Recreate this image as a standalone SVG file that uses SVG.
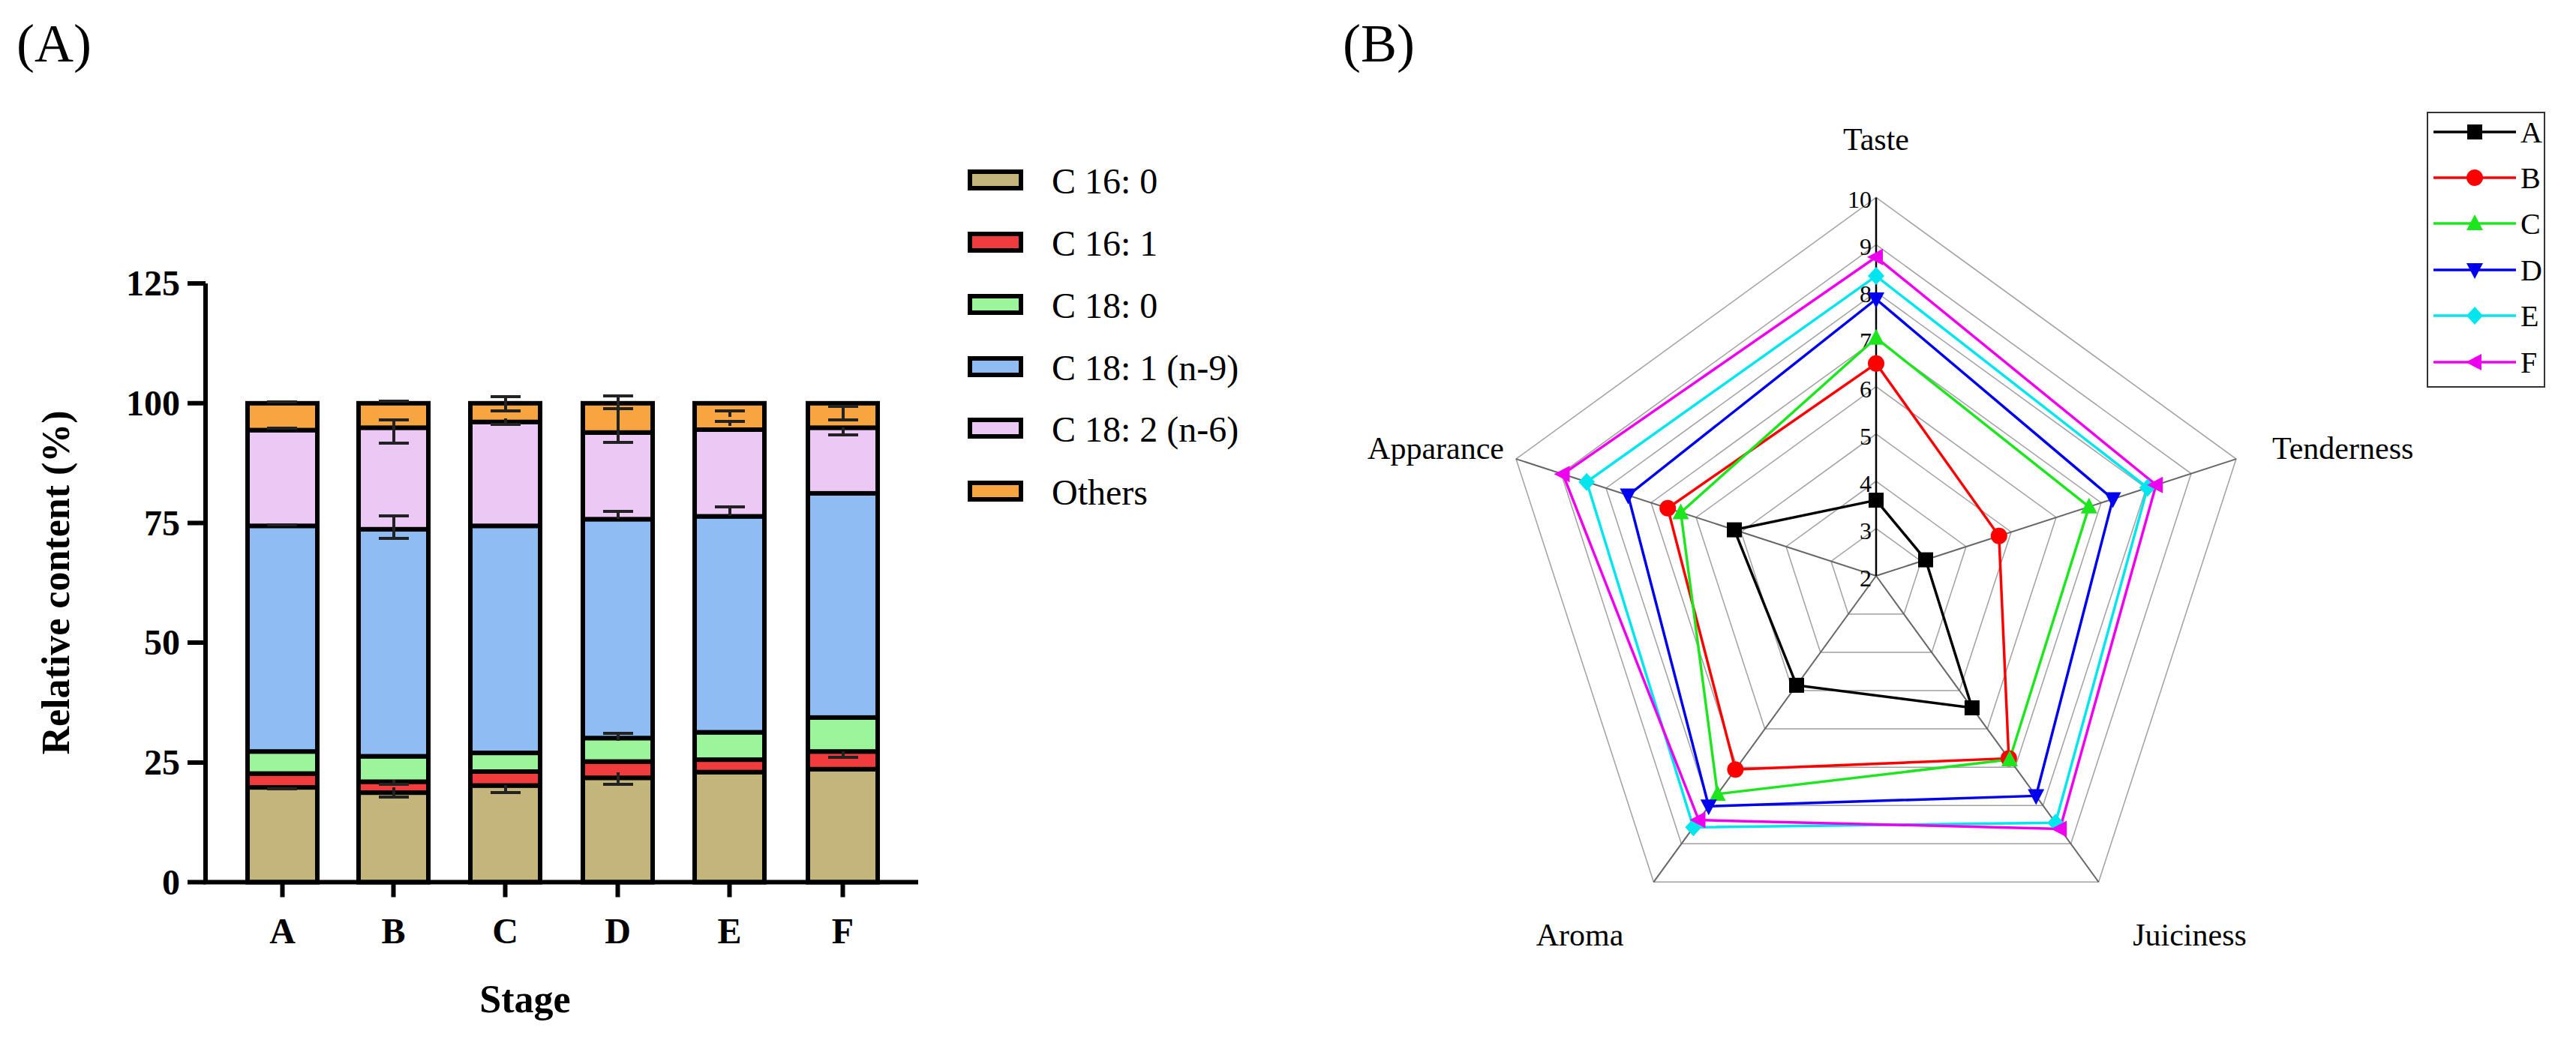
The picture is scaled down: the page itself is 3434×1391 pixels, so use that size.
<svg xmlns="http://www.w3.org/2000/svg" width="3434" height="1391" viewBox="0 0 3434 1391">
<style>
.t{font-family:"Liberation Serif","Times New Roman",serif;fill:#000}
.b{font-weight:bold}
.s{stroke:#000;stroke-width:6}
.c1{fill:#c4b57a}.c2{fill:#f03c3c}.c3{fill:#9cf59a}.c4{fill:#8fbcf2}.c5{fill:#ecc8f5}.c6{fill:#f7a541}
.eb{stroke:#222;stroke-width:4;fill:none}
.grid{fill:none;stroke:#a0a0a0;stroke-width:1.5}
.ser{fill:none;stroke-width:3.5}
</style>
<defs>
<rect id="mA" x="-10" y="-10" width="20" height="20" fill="#000"/>
<circle id="mB" r="11" fill="#f00"/>
<polygon id="mC" points="0,-12 11,9 -11,9" fill="#1ee61e"/>
<polygon id="mD" points="0,12 11,-9 -11,-9" fill="#0000ee"/>
<polygon id="mE" points="0,-12 11,0 0,12 -11,0" fill="#00e5ee"/>
<polygon id="mF" points="-12,0 9,-11 9,11" fill="#ee00ee"/>
</defs>
<rect width="3434" height="1391" fill="#fff"/>
<text class="t" x="22" y="82" font-size="72">(A)</text>
<text class="t" x="1790" y="82" font-size="72">(B)</text>

<g id="barchart">
<g id="bars">
<g id="barA"><rect class="s c1" x="330" y="1050.1" width="93" height="126.5"/><rect class="s c2" x="330" y="1031.6" width="93" height="18.5"/><rect class="s c3" x="330" y="1002.2" width="93" height="29.4"/><rect class="s c4" x="330" y="701.3" width="93" height="300.9"/><rect class="s c5" x="330" y="573.6" width="93" height="127.7"/><rect class="s c6" x="330" y="537.8" width="93" height="35.8"/></g>
<g id="barB"><rect class="s c1" x="478" y="1057.1" width="93" height="119.5"/><rect class="s c2" x="478" y="1042.5" width="93" height="14.6"/><rect class="s c3" x="478" y="1008.6" width="93" height="33.9"/><rect class="s c4" x="478" y="705.8" width="93" height="302.8"/><rect class="s c5" x="478" y="570.4" width="93" height="135.4"/><rect class="s c6" x="478" y="537.8" width="93" height="32.6"/></g>
<g id="barC"><rect class="s c1" x="627" y="1047.6" width="93" height="129"/><rect class="s c2" x="627" y="1029" width="93" height="18.6"/><rect class="s c3" x="627" y="1004.1" width="93" height="24.9"/><rect class="s c4" x="627" y="701.3" width="93" height="302.8"/><rect class="s c5" x="627" y="562.7" width="93" height="138.6"/><rect class="s c6" x="627" y="537.8" width="93" height="24.9"/></g>
<g id="barD"><rect class="s c1" x="777" y="1037.3" width="93" height="139.3"/><rect class="s c2" x="777" y="1015.6" width="93" height="21.7"/><rect class="s c3" x="777" y="984.3" width="93" height="31.3"/><rect class="s c4" x="777" y="692.4" width="93" height="291.9"/><rect class="s c5" x="777" y="576.8" width="93" height="115.6"/><rect class="s c6" x="777" y="537.8" width="93" height="39"/></g>
<g id="barE"><rect class="s c1" x="926" y="1029.7" width="93" height="146.9"/><rect class="s c2" x="926" y="1013.1" width="93" height="16.6"/><rect class="s c3" x="926" y="976.6" width="93" height="36.5"/><rect class="s c4" x="926" y="688.6" width="93" height="288"/><rect class="s c5" x="926" y="573" width="93" height="115.6"/><rect class="s c6" x="926" y="537.8" width="93" height="35.2"/></g>
<g id="barF"><rect class="s c1" x="1077" y="1025.8" width="93" height="150.8"/><rect class="s c2" x="1077" y="1002.2" width="93" height="23.6"/><rect class="s c3" x="1077" y="956.9" width="93" height="45.3"/><rect class="s c4" x="1077" y="657.9" width="93" height="299"/><rect class="s c5" x="1077" y="570.4" width="93" height="87.5"/><rect class="s c6" x="1077" y="537.8" width="93" height="32.6"/></g>
</g>
<g id="errorbars" class="eb">
<path d="M356 571h40M356 700h40M356 1052h40M356 536h40"/>
<path d="M525 537v-2M505 535h40M525 560v31M505 560h40M505 591h40M525 688v30M505 688h40M505 718h40M525 1050v13M505 1063h40M525 1040v6M505 1046h40"/>
<path d="M674 529v19M654 529h40M654 548h40M674 558v8M654 566h40M674 1047v10M654 1057h40"/>
<path d="M824 528v48M804 528h40M804 545h40M824 576v14M804 590h40M824 682v10M804 682h40M824 978v10M804 978h40M824 1030v16M804 1046h40"/>
<path d="M973 548v8M953 548h40M973 562v6M953 562h40M973 676v12M953 676h40"/>
<path d="M1124 542v18M1104 542h40M1104 560h40M1124 570v10M1104 580h40M1124 1002v8M1104 1010h40"/>
</g>
<g id="axes" stroke="#000" stroke-width="6" fill="none">
<path d="M274 378V1179.6M271 1176.6H1224"/>
<path d="M250 378h24M250 537.8h24M250 697.4h24M250 857.1h24M250 1016.9h24M250 1176.6h24"/>
<path d="M376.5 1176.6v20M524.5 1176.6v20M673.5 1176.6v20M823.5 1176.6v20M972.5 1176.6v20M1123.5 1176.6v20"/>
</g>
<g class="t b" font-size="48" text-anchor="end">
<text x="240" y="394">125</text><text x="240" y="554">100</text><text x="240" y="714">75</text><text x="240" y="873">50</text><text x="240" y="1033">25</text><text x="240" y="1193">0</text>
</g>
<g class="t b" font-size="48" text-anchor="middle">
<text x="376.5" y="1258">A</text><text x="524.5" y="1258">B</text><text x="673.5" y="1258">C</text><text x="823.5" y="1258">D</text><text x="972.5" y="1258">E</text><text x="1123.5" y="1258">F</text>
<text x="700" y="1350" font-size="52">Stage</text>
<text x="0" y="0" font-size="52" transform="translate(92,777) rotate(-90)">Relative content (%)</text>
</g>
<g id="legendA">
<rect class="s c1" x="1293" y="229" width="68" height="22"/><text class="t" x="1402" y="258" font-size="48">C 16: 0</text>
<rect class="s c2" x="1293" y="312" width="68" height="22"/><text class="t" x="1402" y="341" font-size="48">C 16: 1</text>
<rect class="s c3" x="1293" y="395" width="68" height="22"/><text class="t" x="1402" y="424" font-size="48">C 18: 0</text>
<rect class="s c4" x="1293" y="478" width="68" height="22"/><text class="t" x="1402" y="507" font-size="48">C 18: 1 (n-9)</text>
<rect class="s c5" x="1293" y="560" width="68" height="22"/><text class="t" x="1402" y="589" font-size="48">C 18: 2 (n-6)</text>
<rect class="s c6" x="1293" y="644" width="68" height="22"/><text class="t" x="1402" y="673" font-size="48">Others</text>
</g>
</g>

<g id="radar">
<g id="grid">
<polygon class="grid" points="2501,704.9 2561,748.5 2538.1,819 2463.9,819 2441,748.5"/>
<polygon class="grid" points="2501,641.8 2621,729 2575.2,870.1 2426.8,870.1 2381,729"/>
<polygon class="grid" points="2501,578.8 2681,709.5 2612.2,921.1 2389.8,921.1 2321,709.5"/>
<polygon class="grid" points="2501,515.7 2741,690 2649.3,972.1 2352.7,972.1 2261,690"/>
<polygon class="grid" points="2501,452.6 2801,670.5 2686.4,1023.2 2315.6,1023.2 2201,670.5"/>
<polygon class="grid" points="2501,389.5 2861,651 2723.5,1074.2 2278.5,1074.2 2141,651"/>
<polygon class="grid" points="2501,326.4 2921,631.6 2760.6,1125.2 2241.4,1125.2 2081,631.6"/>
<polygon class="grid" points="2501,263.4 2981,612.1 2797.6,1176.3 2204.4,1176.3 2021,612.1" stroke="#777"/>
<path d="M2501 768L2981 612.1M2501 768L2797.6 1176.3M2501 768L2204.4 1176.3M2501 768L2021 612.1" stroke="#666" stroke-width="2"/>
<path d="M2501 768V263.4" stroke="#000" stroke-width="2.5"/>
</g>
<g class="t" font-size="32" text-anchor="end">
<text x="2495" y="277">10</text><text x="2495" y="340">9</text><text x="2495" y="403">8</text><text x="2495" y="466">7</text><text x="2495" y="530">6</text><text x="2495" y="593">5</text><text x="2495" y="656">4</text><text x="2495" y="719">3</text><text x="2495" y="782">2</text>
</g>
<g class="t" font-size="42">
<text x="2501" y="200" text-anchor="middle">Taste</text>
<text x="3029" y="612">Tenderness</text>
<text x="2005" y="612" text-anchor="end">Apparance</text>
<text x="2106" y="1261" text-anchor="middle">Aroma</text>
<text x="2919" y="1261" text-anchor="middle">Juiciness</text>
</g>
<g id="series">
<polygon class="ser" stroke="#000" points="2501,667.1 2567,746.6 2628.9,944 2395,913.9 2312,706.6"/>
<polygon class="ser" stroke="#f00" points="2501,484.8 2664.8,714.8 2677.9,1011.4 2313.4,1026.2 2223.2,677.7"/>
<polygon class="ser" stroke="#1ee61e" points="2501,450.7 2784.8,675.8 2679,1013 2289.6,1058.9 2240.6,683.4"/>
<polygon class="ser" stroke="#0000ee" points="2501,399 2816.6,665.5 2714.2,1061.4 2277.8,1075.2 2170.4,660.6"/>
<polygon class="ser" stroke="#00e5ee" points="2501,368.1 2862.8,650.5 2740.2,1097.2 2257.4,1103.3 2115.2,642.7"/>
<polygon class="ser" stroke="#ee00ee" points="2501,342.8 2874.2,646.7 2746.1,1105.4 2264.5,1093.6 2083.5,632.3"/>
<use href="#mA" x="2501" y="667.1"/><use href="#mA" x="2567" y="746.6"/><use href="#mA" x="2628.9" y="944"/><use href="#mA" x="2395" y="913.9"/><use href="#mA" x="2312" y="706.6"/>
<use href="#mB" x="2501" y="484.8"/><use href="#mB" x="2664.8" y="714.8"/><use href="#mB" x="2677.9" y="1011.4"/><use href="#mB" x="2313.4" y="1026.2"/><use href="#mB" x="2223.2" y="677.7"/>
<use href="#mC" x="2501" y="450.7"/><use href="#mC" x="2784.8" y="675.8"/><use href="#mC" x="2679" y="1013"/><use href="#mC" x="2289.6" y="1058.9"/><use href="#mC" x="2240.6" y="683.4"/>
<use href="#mD" x="2501" y="399"/><use href="#mD" x="2816.6" y="665.5"/><use href="#mD" x="2714.2" y="1061.4"/><use href="#mD" x="2277.8" y="1075.2"/><use href="#mD" x="2170.4" y="660.6"/>
<use href="#mE" x="2501" y="368.1"/><use href="#mE" x="2862.8" y="650.5"/><use href="#mE" x="2740.2" y="1097.2"/><use href="#mE" x="2257.4" y="1103.3"/><use href="#mE" x="2115.2" y="642.7"/>
<use href="#mF" x="2501" y="342.8"/><use href="#mF" x="2874.2" y="646.7"/><use href="#mF" x="2746.1" y="1105.4"/><use href="#mF" x="2264.5" y="1093.6"/><use href="#mF" x="2083.5" y="632.3"/>
</g>
<g id="legendB">
<rect x="3236" y="150" width="156" height="366" fill="#fff" stroke="#333" stroke-width="2"/>
<g stroke-width="3.5">
<path d="M3244 176H3354" stroke="#000"/><path d="M3244 237H3354" stroke="#f00"/><path d="M3244 298H3354" stroke="#1ee61e"/><path d="M3244 360H3354" stroke="#0000ee"/><path d="M3244 421H3354" stroke="#00e5ee"/><path d="M3244 483H3354" stroke="#ee00ee"/>
</g>
<use href="#mA" x="3299" y="176"/><use href="#mB" x="3299" y="237"/><use href="#mC" x="3299" y="298"/><use href="#mD" x="3299" y="360"/><use href="#mE" x="3299" y="421"/><use href="#mF" x="3299" y="483"/>
<g class="t" font-size="40">
<text x="3360" y="190">A</text><text x="3360" y="251">B</text><text x="3360" y="312">C</text><text x="3360" y="374">D</text><text x="3360" y="435">E</text><text x="3360" y="497">F</text>
</g>
</g>
</g>
</svg>
